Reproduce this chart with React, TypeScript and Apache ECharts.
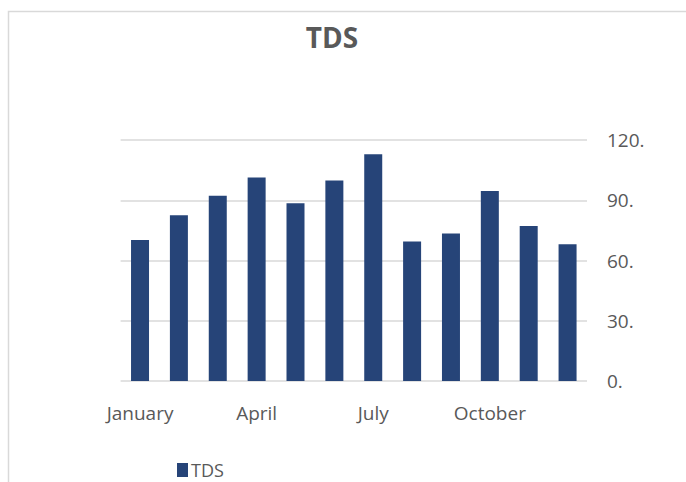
import React, { useEffect, useRef } from "react";
import * as echarts from "echarts";

const categories = [
  "January", "February", "March", "April", "May", "June",
  "July", "August", "September", "October", "November", "December",
];
const tdsValues = [70.2, 82.5, 92.3, 101.3, 88.5, 99.8, 112.9, 69.4, 73.5, 94.6, 77.2, 68.1];
const yTicks = [0, 30, 60, 90, 120];

export default function App() {
  const ref = useRef<HTMLDivElement>(null);
  useEffect(() => {
    if (!ref.current) return;
    const chart = echarts.init(ref.current, null, { renderer: "svg" });
    const font = "Open Sans, Noto Sans, sans-serif";
    chart.setOption({
      animation: false,
      backgroundColor: "#ffffff",
      title: {
        text: "TDS",
        left: 327,
        top: 18,
        textAlign: "center",
        textStyle: { fontFamily: font, fontSize: 28, fontWeight: "bold", color: "#595959" },
      },
      legend: {
        data: ["TDS"],
        left: 172,
        top: 456,
        itemWidth: 11,
        itemHeight: 14,
        itemGap: 4,
        icon: "rect",
        textStyle: { fontFamily: font, fontSize: 18, color: "#595959", padding: [0, 0, 0, -2] },
      },
      graphic: [
        {
          type: "rect",
          shape: { x: 8.5, y: 11.5, width: 720, height: 520 },
          style: { fill: "none", stroke: "#d9d9d9", lineWidth: 1.5 },
          silent: true,
        },
      ],
      grid: { left: 120.6, right: 99, top: 140, bottom: 101, containLabel: false },
      xAxis: {
        type: "category",
        data: categories,
        axisLine: { show: false },
        axisTick: { show: false },
        axisLabel: {
          interval: 2,
          fontFamily: font,
          fontSize: 19,
          color: "#595959",
          margin: 22,
        },
      },
      yAxis: {
        type: "value",
        position: "right",
        min: 0,
        max: 120,
        interval: 30,
        axisLine: { show: false },
        axisTick: { show: false },
        splitLine: { lineStyle: { color: "#d9d9d9", width: 1.5 } },
        axisLabel: {
          fontFamily: font,
          fontSize: 19,
          color: "#595959",
          margin: 20,
          formatter: (v: number) => (yTicks.includes(v) ? v + "." : ""),
        },
      },
      series: [
        {
          name: "TDS",
          type: "bar",
          data: tdsValues,
          barWidth: 18,
          itemStyle: { color: "#264478" },
        },
      ],
    });
    return () => chart.dispose();
  }, []);
  return (
    <div
      ref={ref}
      style={{ position: "fixed", left: 0, top: 0, width: 686, height: 482 }}
    />
  );
}
